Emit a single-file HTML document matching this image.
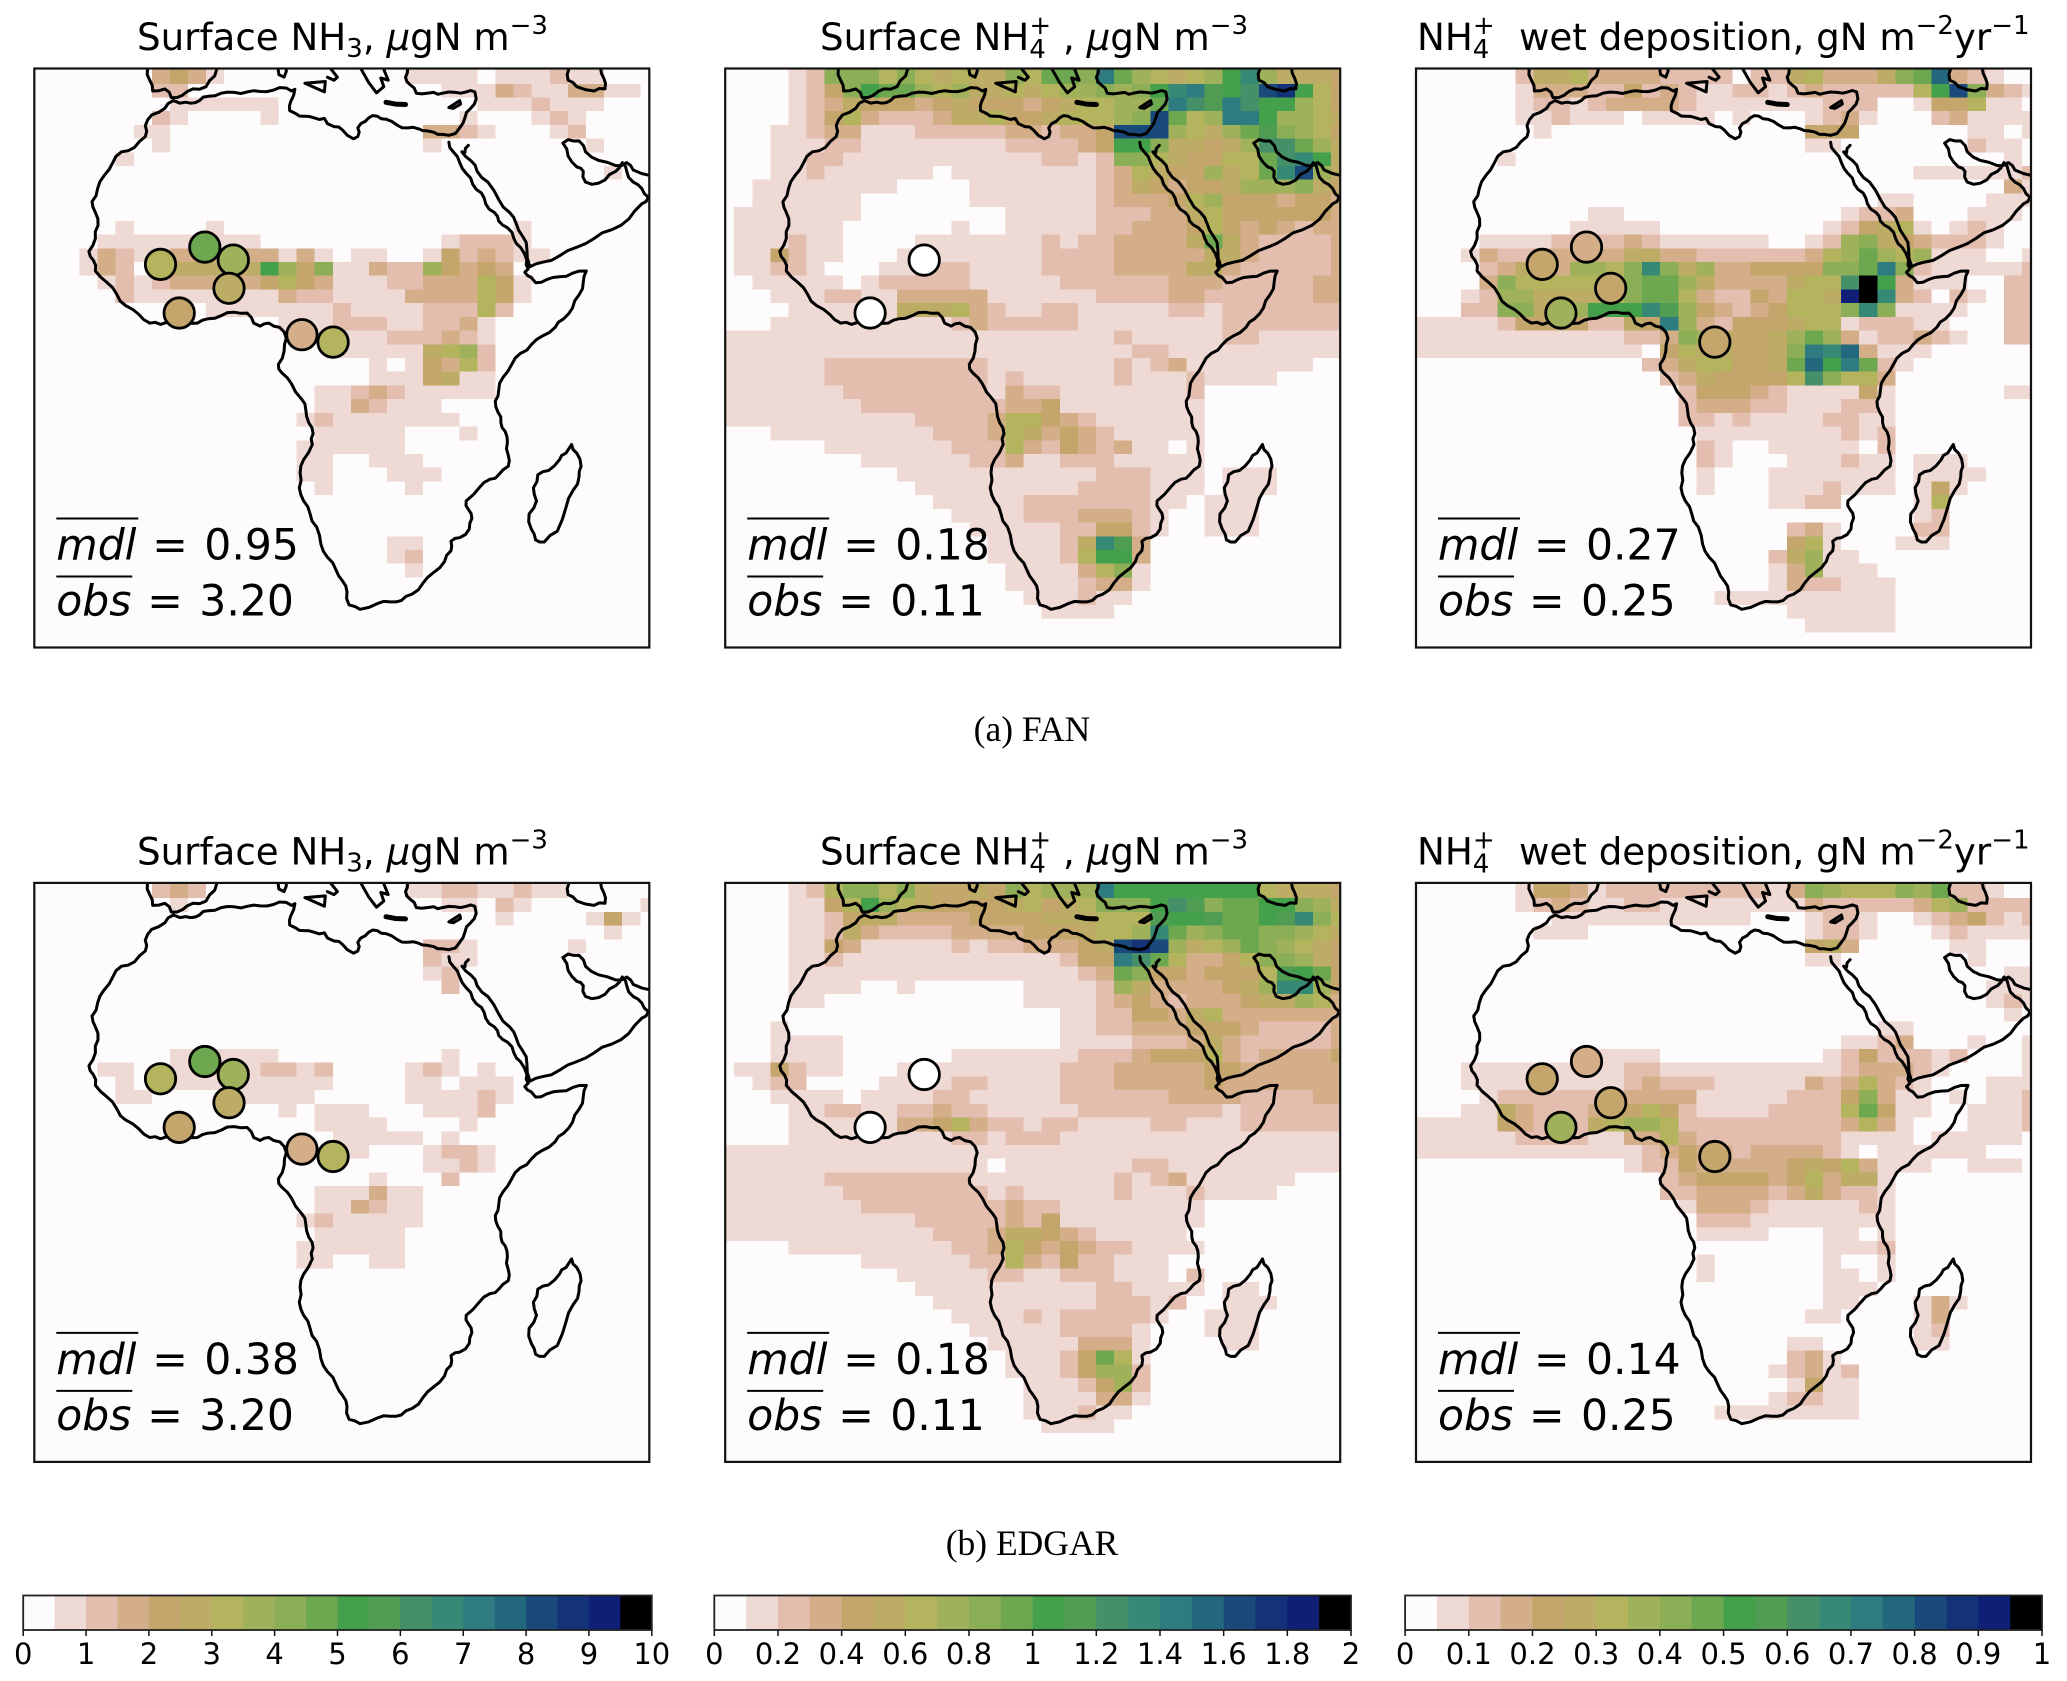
<!DOCTYPE html>
<html lang="en">
<head>
<meta charset="utf-8">
<title>Africa NH3 / NH4+ maps: FAN and EDGAR</title>
<style>
html,body{margin:0;padding:0;background:#fff;}
svg{display:block;}
text{font-family:"DejaVu Sans","Liberation Sans",sans-serif;fill:#000;}
.title{font-size:37.2px;}
.note{font-size:42.5px;}
.cap{font-family:"Liberation Serif",serif;font-size:35.5px;text-anchor:middle;}
.tick{font-size:29px;text-anchor:middle;}
</style>
</head>
<body>
<svg id="fig" xmlns="http://www.w3.org/2000/svg" width="2067" height="1681" viewBox="0 0 2067 1681">
<defs><clipPath id="mapclip"><rect x="0" y="0" width="615" height="579"/></clipPath></defs>
<rect x="0" y="0" width="2067" height="1681" fill="#fff"/>

<text class="title" x="137" y="50">Surface NH<tspan dy="7" font-size="26">3</tspan><tspan dy="-7">, </tspan><tspan font-style="italic">μ</tspan>gN m<tspan dy="-16" font-size="26">−3</tspan></text>
<text class="title" x="820" y="50">Surface NH<tspan dy="8" font-size="26">4</tspan><tspan dx="-16.5" dy="-24" font-size="26">+</tspan><tspan dy="16"> , </tspan><tspan font-style="italic">μ</tspan>gN m<tspan dy="-16" font-size="26">−3</tspan></text>
<text class="title" x="1417" y="50">NH<tspan dy="8" font-size="26">4</tspan><tspan dx="-16.5" dy="-24" font-size="26">+</tspan><tspan dy="16" x="1519">wet deposition, gN m</tspan><tspan dy="-16" font-size="26">−2</tspan><tspan dy="16">yr</tspan><tspan dy="-16" font-size="26">−1</tspan></text>
<text class="title" x="137" y="864.5">Surface NH<tspan dy="7" font-size="26">3</tspan><tspan dy="-7">, </tspan><tspan font-style="italic">μ</tspan>gN m<tspan dy="-16" font-size="26">−3</tspan></text>
<text class="title" x="820" y="864.5">Surface NH<tspan dy="8" font-size="26">4</tspan><tspan dx="-16.5" dy="-24" font-size="26">+</tspan><tspan dy="16"> , </tspan><tspan font-style="italic">μ</tspan>gN m<tspan dy="-16" font-size="26">−3</tspan></text>
<text class="title" x="1417" y="864.5">NH<tspan dy="8" font-size="26">4</tspan><tspan dx="-16.5" dy="-24" font-size="26">+</tspan><tspan dy="16" x="1519">wet deposition, gN m</tspan><tspan dy="-16" font-size="26">−2</tspan><tspan dy="16">yr</tspan><tspan dy="-16" font-size="26">−1</tspan></text>

<g id="p0" transform="translate(34.3,68.5)">
  <g class="layer"></g>
  <line x1="22" x2="104" y1="450" y2="450" stroke="#000" stroke-width="2"/><line x1="22" x2="98" y1="508" y2="508" stroke="#000" stroke-width="2"/>
  <text class="note" x="22" y="491"><tspan font-style="italic">mdl</tspan><tspan x="118">=</tspan><tspan x="170">0.95</tspan></text>
  <text class="note" x="22" y="547"><tspan font-style="italic">obs</tspan><tspan x="113">=</tspan><tspan x="165">3.20</tspan></text>
</g>
<g id="p1" transform="translate(725.2,68.5)">
  <g class="layer"></g>
  <line x1="22" x2="104" y1="450" y2="450" stroke="#000" stroke-width="2"/><line x1="22" x2="98" y1="508" y2="508" stroke="#000" stroke-width="2"/>
  <text class="note" x="22" y="491"><tspan font-style="italic">mdl</tspan><tspan x="118">=</tspan><tspan x="170">0.18</tspan></text>
  <text class="note" x="22" y="547"><tspan font-style="italic">obs</tspan><tspan x="113">=</tspan><tspan x="165">0.11</tspan></text>
</g>
<g id="p2" transform="translate(1416,68.5)">
  <g class="layer"></g>
  <line x1="22" x2="104" y1="450" y2="450" stroke="#000" stroke-width="2"/><line x1="22" x2="98" y1="508" y2="508" stroke="#000" stroke-width="2"/>
  <text class="note" x="22" y="491"><tspan font-style="italic">mdl</tspan><tspan x="118">=</tspan><tspan x="170">0.27</tspan></text>
  <text class="note" x="22" y="547"><tspan font-style="italic">obs</tspan><tspan x="113">=</tspan><tspan x="165">0.25</tspan></text>
</g>
<g id="p3" transform="translate(34.3,882.9)">
  <g class="layer"></g>
  <line x1="22" x2="104" y1="450" y2="450" stroke="#000" stroke-width="2"/><line x1="22" x2="98" y1="508" y2="508" stroke="#000" stroke-width="2"/>
  <text class="note" x="22" y="491"><tspan font-style="italic">mdl</tspan><tspan x="118">=</tspan><tspan x="170">0.38</tspan></text>
  <text class="note" x="22" y="547"><tspan font-style="italic">obs</tspan><tspan x="113">=</tspan><tspan x="165">3.20</tspan></text>
</g>
<g id="p4" transform="translate(725.2,882.9)">
  <g class="layer"></g>
  <line x1="22" x2="104" y1="450" y2="450" stroke="#000" stroke-width="2"/><line x1="22" x2="98" y1="508" y2="508" stroke="#000" stroke-width="2"/>
  <text class="note" x="22" y="491"><tspan font-style="italic">mdl</tspan><tspan x="118">=</tspan><tspan x="170">0.18</tspan></text>
  <text class="note" x="22" y="547"><tspan font-style="italic">obs</tspan><tspan x="113">=</tspan><tspan x="165">0.11</tspan></text>
</g>
<g id="p5" transform="translate(1416,882.9)">
  <g class="layer"></g>
  <line x1="22" x2="104" y1="450" y2="450" stroke="#000" stroke-width="2"/><line x1="22" x2="98" y1="508" y2="508" stroke="#000" stroke-width="2"/>
  <text class="note" x="22" y="491"><tspan font-style="italic">mdl</tspan><tspan x="118">=</tspan><tspan x="170">0.14</tspan></text>
  <text class="note" x="22" y="547"><tspan font-style="italic">obs</tspan><tspan x="113">=</tspan><tspan x="165">0.25</tspan></text>
</g>

<text class="cap" x="1032" y="741">(a) FAN</text>
<text class="cap" x="1032" y="1555">(b) EDGAR</text>

<g id="cb0"></g>
<g id="cb1"></g>
<g id="cb2"></g>
</svg>

<script>
// ---- colour levels (20 discrete bins) ----
const levelColors = ["#fefbfc","#eed9d4","#e3bdae","#d3ae88","#c4a56c","#bcac66","#b4b45f","#a0b15b","#8bae56","#6da74f","#44a04a","#4f9c52","#459069","#368975","#2f7c80","#24687e","#1a4a7c","#14327a","#0f1f75","#000000"];

// ---- gridded fields: one string per latitude row, tokens "col=level", "from-to=level", "from:levels" (levels base 20) ----
const fanNh3 = [
"7:3431 10=1 21-24=1 26-28=1 29=2 30-31=1",
"7-8=2 23-25=1 26=3 27=2 28-29=1 30-31=3 32-33=1",
"8-13=1 25-27=1 28=2 29-31=1",
"7=2 8=1 13=1 24=1 28=1 29=2 30=1",
"6-7=1 22-23=3 24=2 25=1 29=1 30=2",
"7=1 22=1 31=1",
"5=1",
"32=1",
"","","",
"5=1 10=1 27=1",
"4-12=1 23=1 24-26=2 27=1",
"3=1 4=3 5=2 6-7=1 8-13=3 14=1 15=3 16=1 18-19=1 22=1 23=4 24:232 27-28=1",
"3=1 4=3 5=2 7=2 8-12=5 13=a 14=7 15=4 16=8 17-18=1 19=3 20-21=2 22=7 23=4 24=3 25=4 26=3",
"4=1 5=2 6=1 7=2 8-12=3 13=4 14=6 15=4 16=3 17-19=1 20-21=2 22-24=3 25=6 26=4 27=1",
"5=2 6-13=1 14=3 15-16=2 17-20=1 21-24=3 25=6 26=4 27=1",
"10-16=1 17=2 18-21=1 22-24=2 25=6 26=2",
"14-16=1 17-19=2 20-21=1 22-23=2 24=3 25=1",
"16-19=1 20-22=2 23=3 24=2 25=1",
"17-21=1 22=5 23=6 24=7 25=2",
"19=1 21=1 22=4 23=3 24=6 25=2",
"19-21=1 22=4 23=5 24-25=1",
"16-17=1 18=2 19=3 20=2 21-25=1",
"16-17=1 18=3 19=2 20-22=1",
"15=1 16=2 17-23=1",
"16-20=1 24=1",
"15-20=1",
"15-16=1 19-21=1",
"15-16=1 20-22=1",
"16=1 21=1",
"","","",
"20-21=1",
"20=1 21=2",
"21=1"
];
const fanNh4 = [
"4:12888686565586998e976567ad75554",
"4:1248a997675565677878adebacgha64",
"4:123544434544434566779ecbecaa764",
"4:12463222355644566678g967eea7765",
"3:1123311122222332334ggg76579b8764",
"3:1112211111111222234aa855457cc975",
"3:1122111111111112212886544669cda5",
"3:1121111110111111112365447569dg75",
"2:111111110000111111123543445777854",
"2:111111000000111111123334674443443",
"1:1111111000000001111122233564444443",
"1:1111110000001001111122333464343233",
"1:1112110000111111121223333595322223",
"1:1142110001111111122223333355322223",
"1-2=1 3-4=2 5=1 9-10=1 11-13=2 14-17=1 18-21=2 22-25=3 26-27=5 28=3 29-33=2 34=3",
"2-6=1 8=1 9-13=2 14-18=1 19-24=2 25-27=3 28-32=2 33-34=3",
"3-5=1 6-7=2 8-9=1 10-14=3 15-20=1 21-24=2 25-26=3 27-32=2 33-34=3",
"4-9=1 10-12=5 13=6 14=3 15=2 16-17=1 18-19=2 20-24=1 25-26=2 27=1 28-34=2",
"3-12=1 13=2 14=3 15-19=2 20-27=1 28-34=2",
"0-21=1 22=2 23-27=1 28-29=2 30-34=1",
"0-22=1 23-24=2 25-34=1",
"0-5=1 6-14=2 15-21=1 22=2 23=1 24=2 25=3 26-32=1",
"0-5=1 6-14=2 15=1 16=2 17-21=1 22=2 23-25=1 26=2 27-30=1",
"0-6=1 7-14=2 15=1 16=3 17-18=2 19-25=1 26=2",
"0-7=1 8-15=2 16-17=3 18=4 19-26=1",
"0-10=1 11-14=2 15=3 16-17=6 18=4 19=3 20=2 21-26=1",
"3-11=1 12-14=2 15=3 16=6 17=5 18=3 19=4 20=3 21=2 22-26=1",
"6-12=1 13-15=2 16=6 17=3 18=2 19=4 20=3 21=2 22=3 23-24=1 26=1",
"8-13=1 14-15=2 16=3 17-18=1 19-21=2 22-26=1",
"10-20=1 21-23=2 24-26=1 28-30=1",
"11-19=1 20-23=2 24-26=1 28-30=1",
"12-16=1 17-23=2 24-25=1 27-29=1",
"13-16=1 17-19=2 20-22=3 23=2 24=1 27-29=1",
"14-18=1 19-20=2 21-22=4 23=2 24=1 27-29=1",
"15-18=1 19=2 20=5 21=d 22=b 23=3",
"15-18=1 19=2 20=6 21=a 22=a 23=3",
"16-19=1 20=3 21=6 22=8 23=1",
"16-19=1 20=2 21-22=3 23=1",
"17-19=1 20=2 21-22=1",
"18-21=1"
];
const fanWet = [
"6=2 7-8=5 9=6 10-13=3 14-17=2 19-20=2 21=5 22=6 23-25=3 26=5 27=8 28=9 29=f 30=3 31=2 32=1",
"6=1 7-9=3 10-11=2 12=4 13=2 14=3 15=2 16-17=1 18-19=2 20=1 21=2 22=3 23-27=2 28=6 29=a 30=g 31=8 32=3 33=2 34=1",
"6=1 7-8=2 9=1 10=2 11-14=3 15=2 16-22=1 23-25=2 28=1 29-30=4 31=6 32-33=1",
"6-7=1 8=2 9-11=1 13-16=1 18=1 22=1 23=2 24=3 25=1 29=2 30=3 31-34=1",
"7=1 22-24=4 31-32=1 34=1",
"22-23=1 31=2 32-33=1",
"5=1 33=1",
"28-33=1 34=2",
"33=3 34=1",
"26-27=1 32-34=1",
"10-11=1 24=1 25=2 26=2 27=3 31-33=1",
"9-13=1 23=1 24=2 25=4 26=5 27=6 28=1 30=1 31=2 32=1",
"4-7=1 8-11=2 12=3 13=2 14-19=1 22=1 23=2 24=7 25=8 26=5 27=4 28=3 29-31=2 32=1",
"3=1 4=3 5-6=2 7-11=3 12-13=5 14-15=3 16-21=2 22=3 23=6 24=7 25=9 26=7 27=6 28=7 29-31=1 34=1",
"4=2 5=3 6=5 7-8=3 9-10=7 11=6 12=8 13=d 14=8 15=5 16=7 17-18=3 19-22=4 23-24=8 25=9 26=e 27=8 28=2 29-33=1 34=2",
"4=3 5=8 6-11=6 12=8 13-14=9 15=7 16=5 17-20=3 21=5 22-23=6 24=c 25=j 26=a 27=3 28-30=1 33-34=2",
"3=1 4=2 5-6=7 7-10=5 11=6 12=8 13-14=9 15=6 16=3 17-18=2 19=4 20=3 21-22=6 23=5 24=i 25=j 26=d 27=3 28=2 30=2 31=1 33-34=2",
"3-4=2 5-6=8 7=5 8-9=7 10-12=a 13=d 14=b 15=7 16=4 17=3 18=2 19=3 20=4 21-23=6 24=8 25=d 26=8 27-30=1 33-34=2",
"0-4=1 5=2 6-9=4 10-11=2 12=5 13=4 14=e 15=7 16=3 17=2 18-20=4 21=5 22-23=6 24=1 25-27=2 28-29=1 33-34=2",
"0-11=1 12-13=2 14=3 15=8 16=7 17=5 18-19=4 20=5 21=7 22=9 23=7 24=3 25=1 26-27=2 28=3 29=2 30=1 33-34=2",
"0-12=1 14=4 15=6 16-17=5 18-19=4 20=5 21=8 22=e 23=d 24=f 25=3 26-28=1",
"13=2 14=3 15=5 16-17=6 18-19=4 20=5 21=9 22=f 23=a 24=e 25=9 26=2 27=1",
"14=2 15=3 16=5 17-20=4 21=6 22=c 23=8 24-25=6 26=3",
"15=2 16-18=4 19=3 20=2 21-24=1 25=4 26=1 33-34=1",
"15=2 16-18=3 19-20=2 21-23=1 24-25=2 26=1",
"15-16=2 17=1 18=2 19-22=1 23-24=2 25-26=1",
"16-23=1 24=2 25=1 26=2",
"16=2 17=1 20-24=1 26=2",
"16=2 17=1 21-23=1 24=2 25-26=1 28-30=1",
"16=1 20-26=1 28-31=1",
"16=1 20-22=1 23=2 24-26=1 28=1 29=4 30=1",
"20-21=1 22-23=2 28=1 29=6",
"28=1 29=2",
"21=2 22=3 23=1 28-29=2",
"21=4 22=6 23=1 27-29=1",
"20=2 21=5 22=7 23-24=1",
"20=1 21=3 22=7 23-25=1",
"20=1 21=3 22-23=2 24-26=1",
"17-26=1",
"21-26=1",
"22-26=1"
];
const edgarNh3 = [
"7=2 8=3 9=2 21-22=1 23-24=2 25-26=1 27=2 28-29=1",
"8=1 23-24=1 26=2 27=1 34=1",
"26=1 31=1 32=4 33=1",
"32=1",
"22-23=2 24=1 30=1",
"22=2 23-24=1",
"22=1 23=2",
"23=2",
"","","","",
"8-13=1 23=1",
"4-5=1 8-12=1 13-14=2 15=1 16=2 21=1 22=2 23=1 25=1",
"5=1 8-16=1 21-22=1 24-26=1",
"5-6=1 11-15=1 21-24=1 25=2 26=1",
"14=1 16-18=1 22-24=1 25=2",
"16-19=1 24=1",
"17-21=1 23=1",
"17-18=1 22=1 23-24=2 25=1",
"22-23=1 24=2 25=1",
"19=1 23=2",
"16-18=1 19=3 20-21=1",
"16-17=1 18=3 19=2 20-21=1",
"15=1 16=2 17-21=1",
"16-20=1",
"15-20=1",
"15-16=1 19-20=1"
];
const edgarNh4 = [
"4=1 5=2 6=6 7-8=8 9=6 10=8 11=5 12-13=4 14=5 15=4 16=8 17=6 18-20=7 21=e 22-29=a 30=6 31-33=5 34=4",
"4-5=1 6=4 7=6 8=a 9=7 10=6 11=5 12-15=4 16=5 17=6 18=4 19=5 20=6 21-23=8 24=a 25=c 26=b 27=8 28-29=9 30-31=a 32=8 33=7 34=5",
"4-5=1 6=2 7=4 8-9=5 10-13=3 14-17=4 18-20=5 21-23=6 24=b 25-26=a 27=b 28-29=9 30=a 31=b 32=d 33=8 34=6",
"4-5=1 6=2 7=5 8=3 9-12=2 13-16=3 17-19=4 20=5 21-22=6 23=7 24=d 25=9 26=7 27=8 28-29=9 30-31=8 32=7 33=6 34=5",
"4-5=1 6=4 7=3 8-12=1 13=2 14=1 15-16=2 17-19=3 20=4 21=5 22=g 23=h 24=g 25=7 26=5 27=6 28=7 29=9 30=8 31=7 32=6 33=5 34=4",
"4-5=1 6=2 7-18=1 19=2 20-21=4 22=e 23=c 24=9 25=6 26-27=3 28=4 29=6 30-31=8 32=7 33=5 34=4",
"4-5=1 6-19=1 20=2 21=3 22=9 23=8 24-25=4 26=3 27-29=4 30=6 31=b 32=a 33=9 34=4",
"4-7=1 10=1 17-20=1 21=2 22=7 23=5 24-27=3 28=4 29=5 30=7 31-32=d 33=7 34=4",
"4-5=1 17-20=1 21=2 22=3 23=4 24=3 25=2 26-28=3 29=4 30-31=5 32=7 33=6 34=3",
"19-20=1 21-22=2 23-24=4 25=3 26=5 27=6 28-33=3 34=3",
"3=1 19-20=1 21-22=2 23-25=3 26-28=4 29=3 30-33=2 34=3",
"3-6=1 19-22=1 23-25=2 26=3 27=5 28=3 29-33=2 34=3",
"3-6=1 13-19=1 20-22=2 23=3 24-26=4 27=6 28=3 29=2 30-33=3 34=4",
"1-2=1 3=4 4=2 5-6=1 10-18=1 19-21=2 22-26=3 27-28=4 29-34=3",
"2=1 3-4=2 9-12=1 13-14=2 15-18=1 19-21=2 22-26=3 27=4 28-34=3",
"3-6=1 8-11=1 12-13=2 14-18=1 19-24=2 25-28=3 29-32=2 33-34=3",
"4-5=1 6-7=2 8-9=1 10-11=2 12=3 13-14=2 15-19=1 20-27=2 28=1 29-34=2",
"4-9=1 10-11=3 12=4 13=6 14=3 15-16=2 17=1 18-19=2 20-23=1 24-25=2 26-28=1 29-34=2",
"4-12=1 13-14=2 15=1 16-18=2 19-34=1",
"0-34=1",
"0-14=1 16-22=1 23-24=2 25-34=1",
"0-5=1 6-13=2 14-21=1 22=2 23=1 24=2 25=3 26-31=1",
"0-6=1 7-14=2 15=1 16=2 17-21=1 22=2 23-25=1 26=2 27-30=1",
"0-7=1 8-15=2 16=3 17-18=2 19-26=1",
"0-10=1 11-15=2 16=3 17=2 18=4 19-26=1",
"0-11=1 12-14=2 15=3 16-17=5 18=4 19=3 20=2 21-25=1",
"4-12=1 13-14=2 15=3 16=6 17=4 18=3 19=4 20=3 21-22=2 23-26=1",
"8-13=1 14-15=2 16=6 17=3 18=2 19=4 20-21=2 22-24=1",
"10-14=1 15-16=2 17-18=1 19-21=2 22-24=1 26=2",
"11-20=1 21-22=2 23-26=1 28-29=1",
"12-20=1 21-23=2 24=1 25=2 28-30=1",
"13-16=1 17=2 18=1 19-23=2 24=1 27-29=1",
"14-18=1 19-22=2 23=1 27-29=1",
"15-19=1 20-22=3 23=1 28-29=1",
"16-18=1 19=2 20=4 21=9 22=6 23=1",
"16-18=1 19=2 20=4 21=7 22=7 23=2",
"17-19=1 20=2 21=4 22=7 23=2",
"17-20=1 21-22=3 23=1",
"17-19=1 20=2 21-22=1",
"18-21=1"
];
const edgarWet = [
"6=1 7-8=4 9=3 10=1 11-19=2 20=1 21=3 22=8 23=7 24-26=6 27=8 28=7 29=9 30-31=2 32=1",
"6=1 7=2 8=3 9=2 10-11=1 12-13=2 14-21=1 22=3 23-27=2 28=3 29=6 30=7 31-34=2",
"8-18=1 22=1 23-24=2 25=1 28=1 29=2 30=3 31=4 32=2 33=1 34=2",
"7-9=1 22=1 23-24=2 25=1 29=1 30=2 31-34=1",
"22=4 23=5 24=3 30-31=1",
"22-23=1 31=1",
"33-34=1",
"32-34=1",
"32=1 33=2 34=1",
"33=1",
"26-27=1",
"24-25=1 26=2 27=3 31=1 34=1",
"9-13=1 23=1 24=2 25=4 26-27=2 28=2 29=1 30=2 34=1",
"3-11=1 12-13=2 14-23=1 24=2 25=3 26-27=3 28=2 29=1 34=1",
"3-11=1 12=2 13=3 14-16=2 17-21=1 22=3 23=2 24=3 25=6 26=3 27=2 28=1 32-34=1",
"4=1 5-11=2 12-15=3 16-20=1 21-23=2 24=4 25=8 26=3 27-28=1 30=1 32-33=1 34=2",
"3-4=1 5=5 6=3 7-9=2 10=3 11-12=4 13=6 14=4 15=2 16-19=1 20-23=2 24=6 25=9 26=4 27-28=1 31-33=1 34=2",
"0-4=1 5=4 6=3 7-9=2 10=5 11=6 12-13=7 14=6 15-23=2 24=3 25=6 26=3 27=1 31-33=1 34=2",
"0-5=1 6-9=2 10-11=1 12-13=3 14=6 15=3 16-23=2 24-27=1 29-33=1",
"0-12=1 13=2 14=3 15=4 16-17=3 18=2 19-22=3 23=2 24=1 26-31=1",
"12=1 13-14=2 15=4 16-20=3 21=4 22=5 23=4 24=6 25=3 26-28=1 31-33=1",
"14=2 15=3 16-19=4 20=3 21=4 22=6 23=3 24-25=5 26=1",
"14-15=2 16-19=3 20=2 21=3 22=5 23=3 24-25=2 26=1",
"15=1 16-18=3 19=2 20-24=1 25=2 26=1",
"16-18=2 19-26=1",
"16-19=1 23-24=1 26=1",
"23-25=1 26=2",
"16=1 23=1 26=1",
"16=1 23-24=1 26=1",
"23-25=1",
"23-24=1 28=1 29=3 30=1",
"22-23=1 28=1 29=3",
"28=1 29=2",
"21-22=1 28-29=1",
"21=2 22=3 23=1",
"20=1 21=2 22=3 23=1 24=2",
"21=1 22=4 23-24=1",
"20=1 21-22=2 23-24=1",
"17-24=1"
];

// ---- observation sites ----
const siteLons = [-7.56,-1.44,2.51,1.91,-4.98,11.98,16.3];
const siteLats = [12.93,15.32,13.52,9.63,6.22,3.22,2.2];
const obsNh3 = [3.1,4.6,3.7,2.6,2.2,1.7,3.1];
const obsNh4 = [null,null,0.01,null,0.01,null,null];
const obsWet = [0.22,0.17,null,0.23,0.37,null,0.22];

// ---- colorbars ----
const cbarMax = [10,2,1];
const cbarTicksA = ["0","1","2","3","4","5","6","7","8","9","10"];
const cbarTicksB = ["0","0.2","0.4","0.6","0.8","1","1.2","1.4","1.6","1.8","2"];
const cbarTicksC = ["0","0.1","0.2","0.3","0.4","0.5","0.6","0.7","0.8","0.9","1"];

// ---- coastline trace (map background, not data) ----
const coastLines = [
 {j:1,p:[400,232,415,238,440,238,460,232,480,222,510,215,540,213,570,212,600,211,630,208,660,203,672,210,680,206,677,220,670,235,668,255,682,262,700,268,725,272,748,273,755,285,770,292,790,300,815,320,825,315,825,295,832,285,850,272,870,268,890,275,915,288,940,295,965,297,985,302,1000,305,1020,310,1035,312,1050,308,1060,295,1072,272,1085,250,1098,228,1095,212,1075,212,1050,213,1020,215,1000,213,985,215,960,215,945,195,935,178,940,158]},
 {j:1,p:[1035,328,1045,350,1060,375,1075,400,1090,425,1110,445,1120,470,1140,490,1150,510,1170,525,1185,550,1200,570,1215,600,1218,620,1210,628,1225,640,1235,652,1260,645,1290,638,1320,630,1352,625,1345,650,1335,680,1320,710,1300,735,1280,755,1250,775,1225,795,1200,815,1180,840,1160,870,1150,900,1142,925,1148,950,1155,975,1165,995,1170,1020,1172,1050,1172,1075,1150,1095,1130,1105,1105,1125,1075,1155,1080,1175,1088,1195,1082,1220,1060,1240,1040,1248,1040,1270,1025,1295,1000,1320,975,1345,950,1370,925,1385,900,1388,870,1392,830,1405,805,1395,800,1365,790,1340,775,1315,755,1285,740,1255,730,1215,715,1185,700,1155,690,1125,692,1090,700,1060,720,1025,722,1000,712,975,705,945,695,920,672,885,650,860,642,840,655,810,660,780,645,755,620,745,600,752,585,745,570,722,540,720,510,728,480,735,455,745,430,740,400,735,370,748,345,745,320,725,290,705,270,680,245,650,220,625,215,600,205,580,220,550,226,520,220,490,212,465,225,435,240,405,260,375,280,350,310,340,335,315,335,290,350,265,380,250,400,232]},
 {j:1,p:[1080,335,1072,352,1065,350,1085,370,1100,395,1125,420,1150,460,1175,490,1190,515,1205,545,1215,575,1222,615,1250,605,1290,590,1330,570,1370,550,1410,530,1450,505,1480,470,1495,455,1480,435,1460,420,1445,395,1435,375,1420,395,1395,415,1365,425,1350,420,1345,395,1330,385,1310,360,1298,330,1310,322,1335,325,1350,350,1380,370,1420,382,1445,375,1460,392,1500,405]},
 {j:1,p:[340,158,345,185,352,210,380,205,395,225,420,220,445,205,475,200,495,175,500,158]},
 {c:true,p:[703,192,750,188,748,212]},
 {p:[762,158,778,178,770,185,755,178]},
 {p:[832,158,850,190,868,214,885,200,878,180,895,185,885,160]},
 {j:1,p:[1312,158,1310,185,1330,200,1370,210,1395,205,1392,180,1385,158]},
 {p:[641,158,643,172,655,178,660,165,660,158]},
 {c:true,p:[1035,248,1060,232,1062,240,1045,250]},
 {p:[890,236,912,240,935,241],w:5},
 {c:true,j:1,p:[1318,1025,1330,1045,1340,1075,1335,1100,1322,1130,1305,1170,1285,1225,1255,1250,1235,1245,1225,1220,1220,1185,1237,1155,1230,1125,1240,1095,1265,1085,1290,1060,1305,1045]}
];

// ---- panels ----
const panelFields = [fanNh3,fanNh4,fanWet,edgarNh3,edgarNh4,edgarWet];
const panelSteps = [0.5,0.1,0.05,0.5,0.1,0.05];
const panelObs = [obsNh3,obsNh4,obsWet,obsNh3,obsNh4,obsWet];

const NS = "http://www.w3.org/2000/svg";
const MAP_W = 615, MAP_H = 579;
const xOfLon = lon => (lon + 25) * MAP_W / 85;
const yOfLat = lat => (40 - lat) * MAP_H / 80;
const LAT_STEP = 180 / 95;
const colCenterLon = c => -25 + 2.5 * c;
const rowCenterLat = r => 38.84 - LAT_STEP * r;
const traceX = x => (x - 79) / 2.306;
const traceY = y => (y - 158) / 2.306;

function parseRow(str){
  const out = new Array(35).fill(0);
  str.split(/\s+/).filter(Boolean).forEach(t=>{
    if(t.indexOf(":")>0){
      const [a,b] = t.split(":");
      for(let i=0;i<b.length;i++){ const c=+a+i; if(c<35) out[c]=parseInt(b[i],20); }
    } else {
      const [range,l] = t.split("=");
      const parts = range.split("-");
      const from = +parts[0], to = parts.length>1 ? +parts[1] : from;
      for(let c=from;c<=to&&c<35;c++) out[c]=parseInt(l,20);
    }
  });
  return out;
}

// small alternating wobble between traced vertices, imitating a fine coastline
const wobble = [3.2,-2.4,1.8,-3.4,2.6,-1.6];
function tracePoints(line){
  const pts=[];
  const n = line.p.length/2;
  for(let i=0;i<n;i++){
    const x=line.p[2*i], y=line.p[2*i+1];
    pts.push([x,y]);
    if(line.j && i<n-1){
      const dx=line.p[2*i+2]-x, dy=line.p[2*i+3]-y, len=Math.hypot(dx,dy);
      if(len>18){
        const k=wobble[i%wobble.length];
        pts.push([x+dx*0.5-dy/len*k, y+dy*0.5+dx/len*k]);
      }
    }
  }
  return pts.map(q=>traceX(q[0]).toFixed(1)+","+traceY(q[1]).toFixed(1)).join(" ");
}

panelFields.forEach((field,pi)=>{
  const host = document.querySelector("#p"+pi+" .layer");
  const clip = document.createElementNS(NS,"g");
  clip.setAttribute("clip-path","url(#mapclip)");
  host.appendChild(clip);

  const bg = document.createElementNS(NS,"rect");
  
  
  bg.setAttribute("width",MAP_W);
  bg.setAttribute("height",MAP_H);
  bg.setAttribute("fill",levelColors[0]);
  clip.appendChild(bg);

  const cw = xOfLon(2.5)-xOfLon(0);
  const ch = yOfLat(0)-yOfLat(LAT_STEP);
  for(let r=0;r<43;r++){
    const row = parseRow(field[r]||"");
    const cy = yOfLat(rowCenterLat(r));
    const extra = r===0 ? 3 : 0;
    for(let c=0;c<35;c++){
      const cx = xOfLon(colCenterLon(c));
      const cell = document.createElementNS(NS,"rect");
      
      
      cell.setAttribute("x",(cx-cw/2).toFixed(2));
      cell.setAttribute("y",(cy-ch/2-extra).toFixed(2));
      cell.setAttribute("width",cw.toFixed(2));
      cell.setAttribute("height",(ch+extra).toFixed(2));
      cell.setAttribute("fill",levelColors[row[c]]);
      cell.setAttribute("shape-rendering","crispEdges");
      clip.appendChild(cell);
    }
  }

  coastLines.forEach(line=>{
    const poly = document.createElementNS(NS,line.c?"polygon":"polyline");
    
    
    poly.setAttribute("points",tracePoints(line));
    poly.setAttribute("fill","none");
    poly.setAttribute("stroke","#000");
    poly.setAttribute("stroke-width",line.w||3);
    poly.setAttribute("stroke-linejoin","round");
    poly.setAttribute("stroke-linecap","round");
    clip.appendChild(poly);
  });

  panelObs[pi].forEach((v,i)=>{
    if(v===null) return;
    const lvl = Math.min(19,Math.floor(v/panelSteps[pi]));
    const dot = document.createElementNS(NS,"circle");
    
    
    dot.setAttribute("cx",xOfLon(siteLons[i]).toFixed(1));
    dot.setAttribute("cy",yOfLat(siteLats[i]).toFixed(1));
    dot.setAttribute("r",15.2);
    dot.setAttribute("fill",lvl===0?"#ffffff":levelColors[lvl]);
    dot.setAttribute("stroke","#000");
    dot.setAttribute("stroke-width",2.8);
    clip.appendChild(dot);
  });

  const frame = document.createElementNS(NS,"rect");
  
  
  frame.setAttribute("width",MAP_W);
  frame.setAttribute("height",MAP_H);
  frame.setAttribute("fill","none");
  frame.setAttribute("stroke","#111");
  frame.setAttribute("stroke-width",2.2);
  host.appendChild(frame);
});

const cbarX0 = [23.2,714.3,1405.1];
const cbarX1 = [651.8,1351,2042];
const cbarTop = 1595.5, cbarBottom = 1630;
[cbarTicksA,cbarTicksB,cbarTicksC].forEach((labels,bi)=>{
  const g = document.getElementById("cb"+bi);
  const xOf = v => cbarX0[bi] + v/cbarMax[bi]*(cbarX1[bi]-cbarX0[bi]);
  const bin = cbarMax[bi]/20;
  levelColors.forEach((col,l)=>{
    const seg = document.createElementNS(NS,"rect");
    
    
    seg.setAttribute("x",xOf(l*bin).toFixed(2));
    seg.setAttribute("y",cbarTop);
    seg.setAttribute("width",(xOf(bin)-xOf(0)+0.3).toFixed(2));
    seg.setAttribute("height",cbarBottom-cbarTop);
    seg.setAttribute("fill",col);
    g.appendChild(seg);
  });
  const fr = document.createElementNS(NS,"rect");
  
  
  fr.setAttribute("x",cbarX0[bi]);
  fr.setAttribute("y",cbarTop);
  fr.setAttribute("width",cbarX1[bi]-cbarX0[bi]);
  fr.setAttribute("height",cbarBottom-cbarTop);
  fr.setAttribute("fill","none");
  fr.setAttribute("stroke","#222");
  fr.setAttribute("stroke-width",1.8);
  g.appendChild(fr);
  labels.forEach((lab,i)=>{
    const v = parseFloat(lab);
    const t = document.createElementNS(NS,"line");
    
    
    t.setAttribute("x1",xOf(v).toFixed(2));
    t.setAttribute("x2",xOf(v).toFixed(2));
    t.setAttribute("y1",cbarBottom);
    t.setAttribute("y2",cbarBottom+6);
    t.setAttribute("stroke","#111");
    t.setAttribute("stroke-width",1.5);
    g.appendChild(t);
    const tx = document.createElementNS(NS,"text");
    
    
    tx.setAttribute("class","tick");
    tx.setAttribute("x",xOf(v).toFixed(2));
    tx.setAttribute("y",1664);
    tx.textContent = lab;
    g.appendChild(tx);
  });
});
</script>
</body>
</html>
